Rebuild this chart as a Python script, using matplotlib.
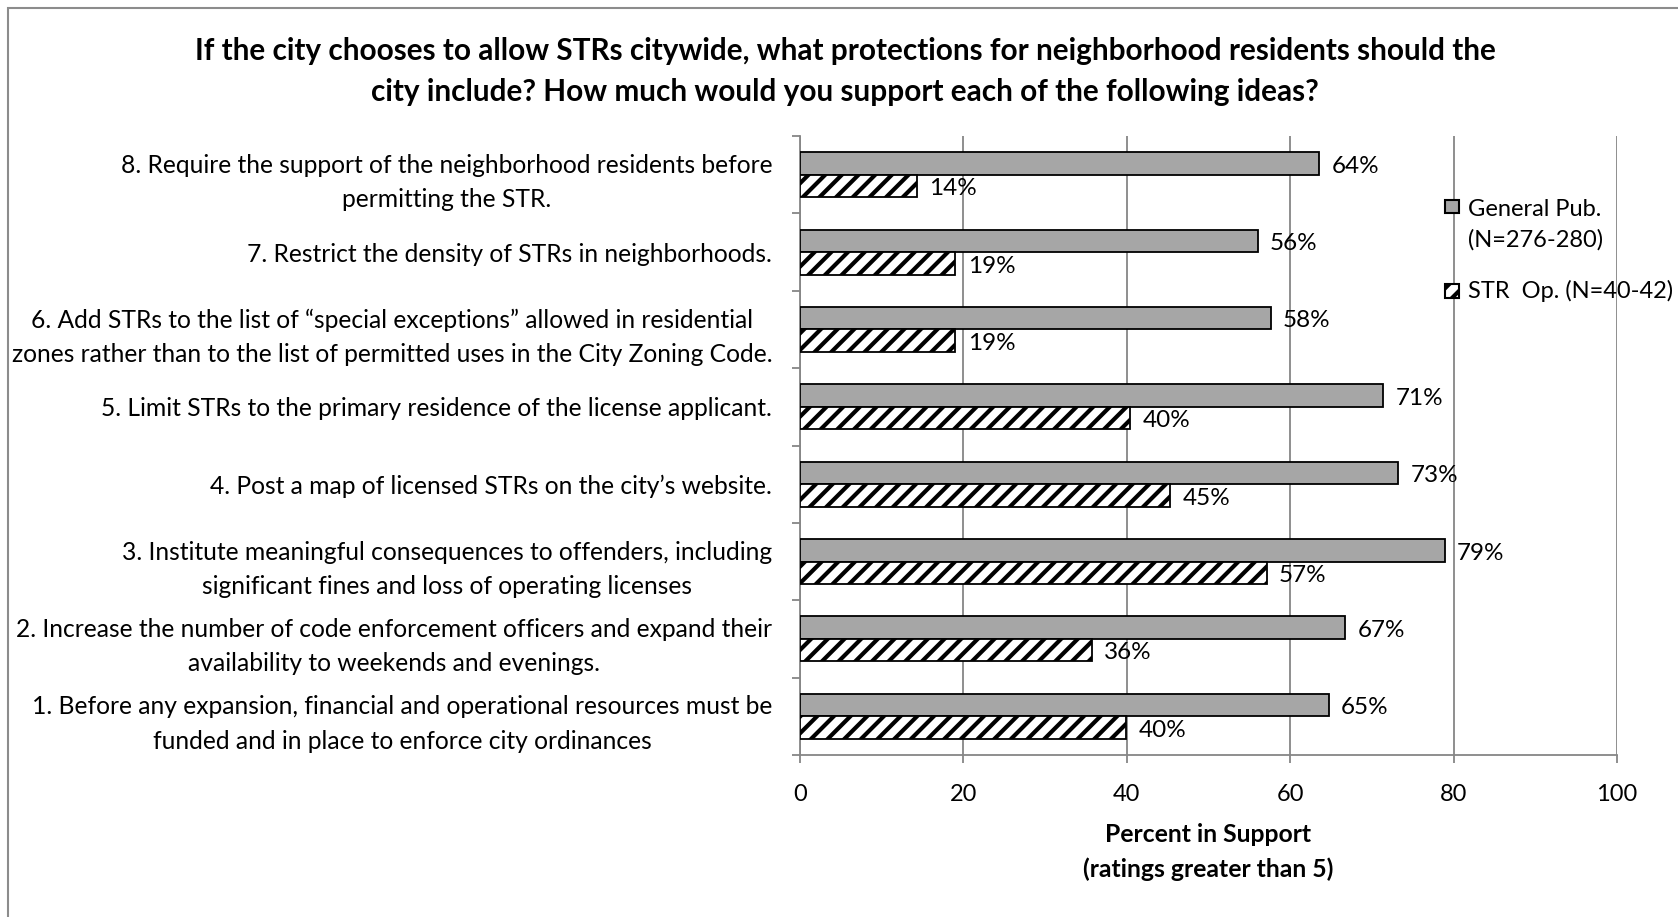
import matplotlib
matplotlib.use("Agg")
import matplotlib.pyplot as plt
from matplotlib.patches import Rectangle
import numpy as np

plt.rcParams['font.family'] = ['Lato', 'DejaVu Sans']
plt.rcParams['hatch.linewidth'] = 3.0

title = ("If the city chooses to allow STRs citywide, what protections for neighborhood residents should the\n"
         "city include? How much would you support each of the following ideas?")

categories = [
    "1. Before any expansion, financial and operational resources must be\nfunded and in place to enforce city ordinances",
    "2. Increase the number of code enforcement officers and expand their\navailability to weekends and evenings.",
    "3. Institute meaningful consequences to offenders, including\nsignificant fines and loss of operating licenses",
    "4. Post a map of licensed STRs on the city\u2019s website.",
    "5. Limit STRs to the primary residence of the license applicant.",
    "6. Add STRs to the list of \u201cspecial exceptions\u201d allowed in residential\nzones rather than to the list of permitted uses in the City Zoning Code.",
    "7. Restrict the density of STRs in neighborhoods.",
    "8. Require the support of the neighborhood residents before\npermitting the STR.",
]
general_pub = [64.7, 66.7, 78.9, 73.2, 71.4, 57.6, 56.0, 63.5]
str_op = [39.9, 35.7, 57.1, 45.3, 40.4, 19.0, 19.0, 14.3]
series_names = ["General Pub.\n(N=276-280)", "STR  Op. (N=40-42)"]
x_ticks = [0, 20, 40, 60, 80, 100]
x_label = "Percent in Support\n(ratings greater than 5)"

W, H = 1678, 917
fig = plt.figure(figsize=(W / 100, H / 100), dpi=100)
ax = fig.add_axes([800 / W, 1 - 755 / H, 817 / W, 619 / H])

y = np.arange(len(categories))
bh = 0.29
gray = "#a6a6a6"
grid_c = "#868686"
fs = 17.7

b1 = ax.barh(y + bh / 2, general_pub, height=bh, color=gray, edgecolor="black", linewidth=1.3, zorder=3)
b2 = ax.barh(y - bh / 2, str_op, height=bh, color="white", edgecolor="black", hatch="//", linewidth=1.3, zorder=3)

for cont, vals in ((b1, general_pub), (b2, str_op)):
    anns = ax.bar_label(cont, labels=[f"{v:.0f}%" for v in vals], padding=9, fontsize=17.5)
    for a in anns:
        a.xyann = (9, -2)

ax.set_xlim(0, 100)
ax.set_ylim(-0.5, len(categories) - 0.5)
ax.set_xticks(x_ticks)
ax.set_xticklabels([str(t) for t in x_ticks], fontsize=17)
ax.tick_params(axis="x", length=6, color=grid_c, width=1.3, pad=15)

ax.set_yticks(y)
ax.set_yticklabels(categories, fontsize=fs, linespacing=1.6, multialignment="center")
ax.tick_params(axis="y", which="major", length=0, pad=20)
ax.set_yticks(np.arange(-0.5, len(categories)), minor=True)
ax.tick_params(axis="y", which="minor", length=6, color=grid_c, width=1.3)

ax.xaxis.grid(True, color=grid_c, linewidth=1.3, zorder=0)
ax.set_axisbelow(True)
for s in ["top", "right"]:
    ax.spines[s].set_visible(False)
for s in ["left", "bottom"]:
    ax.spines[s].set_color(grid_c)
    ax.spines[s].set_linewidth(1.3)

fig.text(845 / W, 1 - 71.5 / H, title, ha="center", va="center", fontsize=21.4,
         fontweight="bold", linespacing=1.6)
fig.text((800 + 1617) / 2 / W, 1 - 852 / H, x_label, ha="center", va="center",
         fontsize=17.8, fontweight="bold", linespacing=1.55)

# legend drawn manually (marker aligned with first text line, as in the reference)
leg_x_box, leg_x_text, box = 1445, 1468, 13.5
leg_rows = [206.5, 291]
leg_text_shift = [8, 11]
leg_styles = [dict(facecolor=gray, edgecolor="black"),
              dict(facecolor="white", edgecolor="black", hatch="//")]
for name, yc, sh, st in zip(series_names, leg_rows, leg_text_shift, leg_styles):
    fig.patches.append(Rectangle((leg_x_box / W, 1 - (yc + box / 2) / H), box / W, box / H,
                                 transform=fig.transFigure, linewidth=1.5, **st))
    fig.text(leg_x_text / W, 1 - (yc - sh) / H, name, ha="left", va="top",
             fontsize=17, linespacing=1.55)

fig.patches.append(Rectangle((8 / W, -0.2), 1.5, 1.2 - 8 / H, transform=fig.transFigure,
                             fill=False, edgecolor="#8c8c8c", linewidth=1.5))

fig.savefig("out.png", dpi=100)
